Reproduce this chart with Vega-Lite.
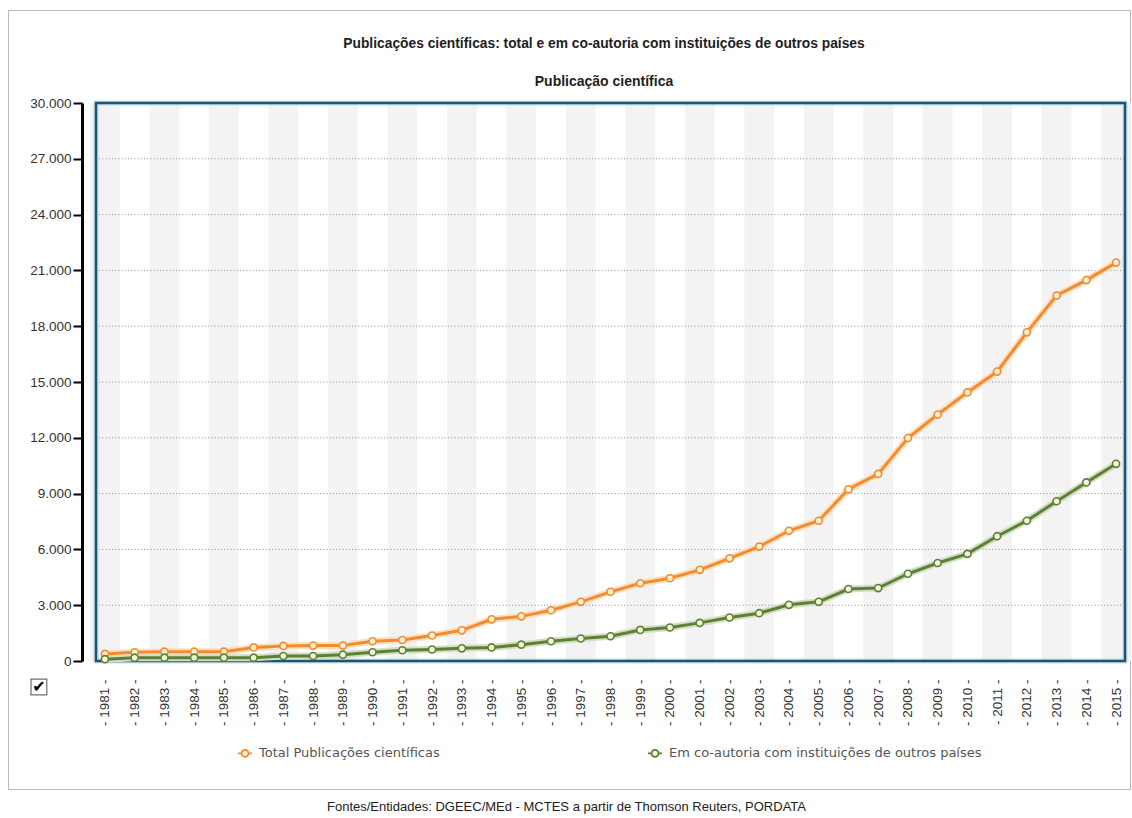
{
  "$schema": "https://vega.github.io/schema/vega-lite/v6.json",
  "width": 1122,
  "height": 779,
  "autosize": "none",
  "padding": {"left": 8, "top": 10, "right": 2, "bottom": 29},
  "background": "white",
  "config": {
    "view": {"stroke": "#b9b9b9", "strokeWidth": 1},
    "font": "Liberation Sans",
    "axis": {"labelOverlap": false}
  },
  "title": {
    "text": "Publicações científicas: total e em co-autoria com instituições de outros países",
    "subtitle": "Publicação científica",
    "anchor": "middle",
    "frame": "group",
    "offset": -79,
    "dx": 35,
    "font": "Liberation Sans",
    "fontSize": 13.8,
    "fontWeight": "bold",
    "color": "#1e1e1e",
    "subtitleFont": "Liberation Sans",
    "subtitleFontSize": 14,
    "subtitleFontWeight": "bold",
    "subtitleColor": "#1e1e1e",
    "subtitlePadding": 24
  },
  "datasets": {
    "pub": [
      {"ano": 1981, "total": 380, "coautoria": 100},
      {"ano": 1982, "total": 470, "coautoria": 180},
      {"ano": 1983, "total": 500, "coautoria": 180},
      {"ano": 1984, "total": 500, "coautoria": 180},
      {"ano": 1985, "total": 500, "coautoria": 180},
      {"ano": 1986, "total": 730, "coautoria": 180},
      {"ano": 1987, "total": 810, "coautoria": 270},
      {"ano": 1988, "total": 830, "coautoria": 270},
      {"ano": 1989, "total": 830, "coautoria": 340},
      {"ano": 1990, "total": 1060, "coautoria": 470},
      {"ano": 1991, "total": 1130, "coautoria": 580},
      {"ano": 1992, "total": 1370, "coautoria": 620},
      {"ano": 1993, "total": 1650, "coautoria": 680},
      {"ano": 1994, "total": 2240, "coautoria": 730},
      {"ano": 1995, "total": 2400, "coautoria": 880},
      {"ano": 1996, "total": 2730, "coautoria": 1060},
      {"ano": 1997, "total": 3180, "coautoria": 1210},
      {"ano": 1998, "total": 3720, "coautoria": 1330},
      {"ano": 1999, "total": 4180, "coautoria": 1670},
      {"ano": 2000, "total": 4450, "coautoria": 1800},
      {"ano": 2001, "total": 4900, "coautoria": 2050},
      {"ano": 2002, "total": 5520, "coautoria": 2340},
      {"ano": 2003, "total": 6150, "coautoria": 2570},
      {"ano": 2004, "total": 7000, "coautoria": 3020},
      {"ano": 2005, "total": 7540, "coautoria": 3180},
      {"ano": 2006, "total": 9230, "coautoria": 3870},
      {"ano": 2007, "total": 10060, "coautoria": 3920},
      {"ano": 2008, "total": 11990, "coautoria": 4690},
      {"ano": 2009, "total": 13250, "coautoria": 5270},
      {"ano": 2010, "total": 14440, "coautoria": 5760},
      {"ano": 2011, "total": 15560, "coautoria": 6710},
      {"ano": 2012, "total": 17670, "coautoria": 7540},
      {"ano": 2013, "total": 19650, "coautoria": 8590},
      {"ano": 2014, "total": 20480, "coautoria": 9600},
      {"ano": 2015, "total": 21420, "coautoria": 10600}
    ],
    "grelha": [
      {"v": 3000}, {"v": 6000}, {"v": 9000}, {"v": 12000}, {"v": 15000},
      {"v": 18000}, {"v": 21000}, {"v": 24000}, {"v": 27000}
    ]
  },
  "data": {"name": "pub"},
  "layer": [
    {
      "transform": [{"fold": ["total", "coautoria"], "as": ["serie", "valor"]}],
      "mark": {"type": "line", "strokeWidth": 3},
      "encoding": {
        "x": {
          "field": "ano",
          "type": "quantitative",
          "scale": {"type": "linear", "domain": [1980.7, 2015.3], "range": [88, 1117], "nice": false, "zero": false, "padding": 0},
          "axis": {
            "orient": "bottom",
            "offset": -128,
            "values": [1981, 1982, 1983, 1984, 1985, 1986, 1987, 1988, 1989, 1990, 1991, 1992, 1993, 1994, 1995, 1996, 1997, 1998, 1999, 2000, 2001, 2002, 2003, 2004, 2005, 2006, 2007, 2008, 2009, 2010, 2011, 2012, 2013, 2014, 2015],
            "tickCount": 60,
            "labelExpr": "'- ' + datum.value + ' -'",
            "labelAngle": 270,
            "labelAlign": "right",
            "labelBaseline": "middle",
            "labelFont": "Liberation Sans",
            "labelFontSize": 13.5,
            "labelColor": "#333333",
            "labelPadding": 18,
            "labelOverlap": false,
            "labelFlush": false,
            "ticks": false,
            "domain": false,
            "grid": false,
            "title": "Fontes/Entidades: DGEEC/MEd - MCTES a partir de Thomson Reuters, PORDATA",
            "titleFont": "Liberation Sans",
            "titleFontSize": 13,
            "titleFontWeight": "normal",
            "titleColor": "#222222",
            "titleX": 558,
            "titleY": 145,
            "titleAlign": "center",
            "titleBaseline": "middle"
          }
        },
        "y": {
          "field": "valor",
          "type": "quantitative",
          "scale": {"domain": [0, 30000], "range": [651, 93], "nice": false, "zero": true},
          "axis": {
            "orient": "left",
            "offset": -74,
            "values": [0, 3000, 6000, 9000, 12000, 15000, 18000, 21000, 24000, 27000, 30000],
            "tickCount": 30,
            "labelExpr": "replace(format(datum.value, ','), ',', '.')",
            "labelFont": "Liberation Sans",
            "labelFontSize": 13.5,
            "labelColor": "#333333",
            "labelPadding": 2,
            "domainColor": "#000000",
            "domainWidth": 3,
            "tickColor": "#000000",
            "tickWidth": 2,
            "tickSize": 9,
            "grid": false,
            "title": null
          }
        },
        "stroke": {
          "field": "serie",
          "type": "nominal",
          "scale": {"domain": ["total", "coautoria"], "range": ["#f28c2e", "#5c8034"]},
          "legend": {
            "orient": "none",
            "legendX": 229,
            "legendY": 735,
            "direction": "horizontal",
            "columns": 2,
            "columnPadding": 204,
            "padding": 0,
            "title": null,
            "symbolType": "M-1,0L-0.5,0M0.5,0L1,0M0.5,0A0.5,0.5,0,1,1,-0.5,0A0.5,0.5,0,1,1,0.5,0",
            "symbolSize": 196,
            "symbolStrokeWidth": 1.8,
            "symbolOpacity": 1,
            "symbolFillColor": "#fff6e0",
            "labelFont": "DejaVu Sans",
            "labelFontSize": 13,
            "labelColor": "#555555",
            "labelOffset": 6,
            "labelLimit": 500,
            "labelExpr": "datum.label == 'total' ? 'Total Publicações científicas' : 'Em co-autoria com instituições de outros países'"
          }
        }
      }
    },
    {
      "transform": [{"filter": "datum.ano % 2 == 1"}],
      "mark": {"type": "bar", "size": 29.7, "orient": "vertical", "color": "#f3f3f3"},
      "encoding": {
        "x": {"field": "ano", "type": "quantitative"},
        "y": {"datum": 30000, "type": "quantitative"},
        "y2": {"datum": 0}
      }
    },
    {
      "data": {"name": "grelha"},
      "mark": {"type": "rule", "color": "#8c8c8c", "strokeWidth": 1, "strokeDash": [1, 2.2]},
      "encoding": {
        "y": {"field": "v", "type": "quantitative"},
        "x": {"datum": 1980.7, "type": "quantitative"},
        "x2": {"datum": 2015.3}
      }
    },
    {
      "data": {"values": [{}]},
      "mark": {"type": "rect", "filled": false, "stroke": "#a9cfe0", "strokeWidth": 5, "opacity": 0.6},
      "encoding": {
        "x": {"datum": 1980.7, "type": "quantitative"},
        "x2": {"datum": 2015.3},
        "y": {"datum": 0, "type": "quantitative"},
        "y2": {"datum": 30000}
      }
    },
    {
      "data": {"values": [{}]},
      "mark": {"type": "rect", "filled": false, "stroke": "#1d5674", "strokeWidth": 2.5},
      "encoding": {
        "x": {"datum": 1980.7, "type": "quantitative"},
        "x2": {"datum": 2015.3},
        "y": {"datum": 0, "type": "quantitative"},
        "y2": {"datum": 30000}
      }
    },
    {
      "transform": [{"fold": ["total", "coautoria"], "as": ["serie", "valor"]}],
      "mark": {"type": "line", "strokeWidth": 7, "strokeCap": "round"},
      "encoding": {
        "x": {"field": "ano", "type": "quantitative"},
        "y": {"field": "valor", "type": "quantitative"},
        "color": {"field": "serie", "type": "nominal", "scale": {"domain": ["total", "coautoria"], "range": ["#fbe0c4", "#d3dec4"]}, "legend": null}
      }
    },
    {
      "transform": [{"fold": ["total", "coautoria"], "as": ["serie", "valor"]}],
      "mark": {"type": "line", "strokeWidth": 3},
      "encoding": {
        "x": {"field": "ano", "type": "quantitative"},
        "y": {"field": "valor", "type": "quantitative"},
        "stroke": {"field": "serie", "type": "nominal"}
      }
    },
    {
      "transform": [{"fold": ["total", "coautoria"], "as": ["serie", "valor"]}],
      "mark": {"type": "point", "shape": "circle", "filled": true, "size": 50, "strokeWidth": 1.6, "opacity": 1},
      "encoding": {
        "x": {"field": "ano", "type": "quantitative"},
        "y": {"field": "valor", "type": "quantitative"},
        "stroke": {"field": "serie", "type": "nominal"},
        "fill": {"field": "serie", "type": "nominal", "scale": {"domain": ["total", "coautoria"], "range": ["#fff3d6", "#f2f7da"]}, "legend": null}
      }
    },
    {
      "data": {"values": [{}]},
      "mark": {"type": "point", "shape": "square", "size": 250, "filled": true, "fill": "white", "stroke": "#6e6e6e", "strokeWidth": 1.2, "opacity": 1},
      "encoding": {
        "x": {"datum": 1978.78, "type": "quantitative"},
        "y": {"datum": -1398, "type": "quantitative"}
      }
    },
    {
      "data": {"values": [{}]},
      "mark": {"type": "text", "text": "✔", "font": "DejaVu Sans", "fontSize": 16, "fontWeight": "bold", "color": "#000000", "align": "center", "baseline": "middle"},
      "encoding": {
        "x": {"datum": 1978.78, "type": "quantitative"},
        "y": {"datum": -1398, "type": "quantitative"}
      }
    }
  ]
}
